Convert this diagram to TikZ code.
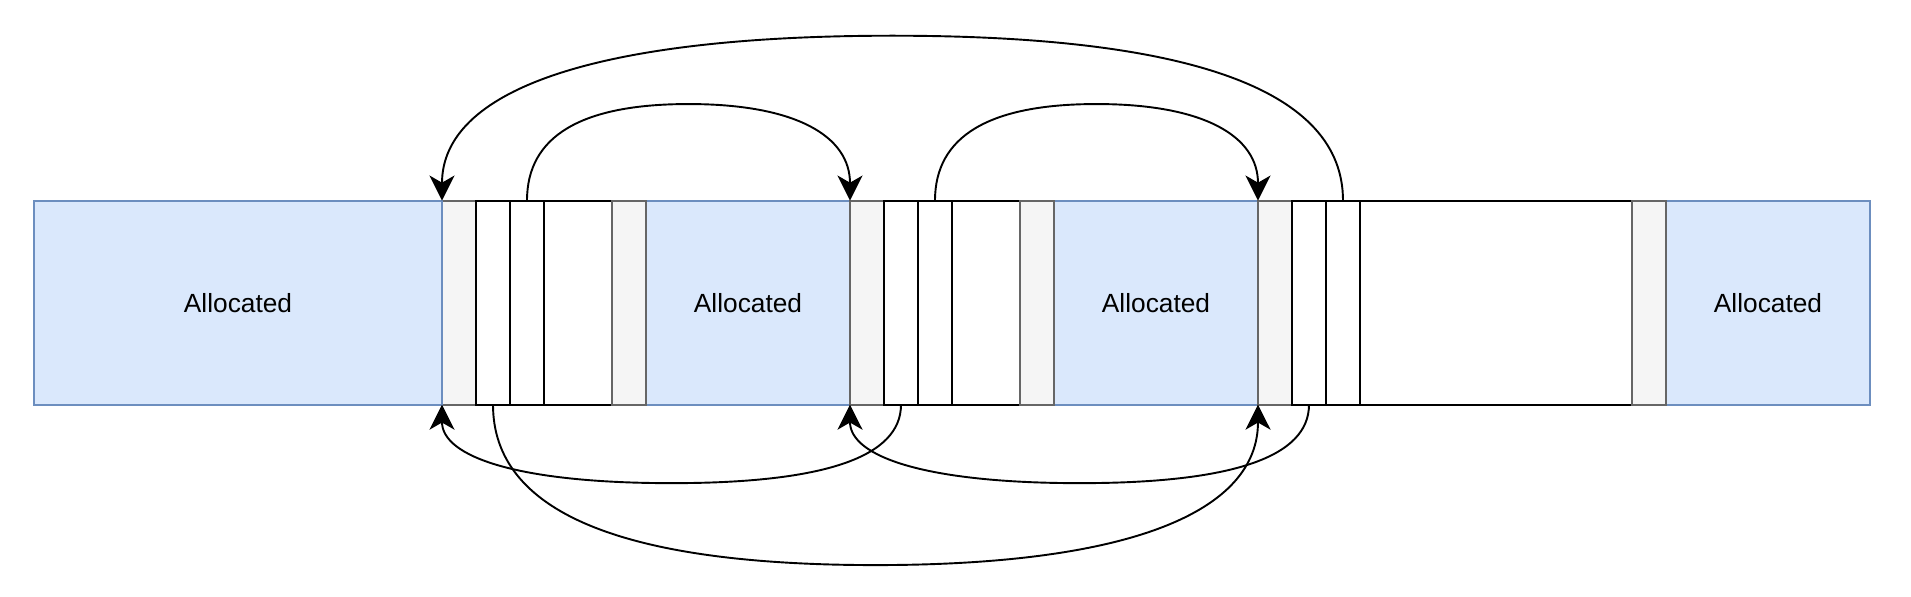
\documentclass[tikz,border=0pt]{standalone}
\usepackage{fontspec}
\setmainfont{Liberation Sans}
\usepackage{tikz}
\usepackage{xcolor}
\usetikzlibrary{arrows.meta}
\definecolor{allocfill}{HTML}{DAE8FC}
\definecolor{allocline}{HTML}{6C8EBF}
\definecolor{hdrfill}{HTML}{F5F5F5}
\definecolor{hdrline}{HTML}{666666}
\tikzset{
  block/.style={rectangle,draw,anchor=south west,inner sep=0pt,outer sep=0pt,
    minimum height=3cm,minimum width=0.5cm,line width=0.8pt},
  alloc/.style={block,fill=allocfill,draw=allocline,font=\fontsize{11}{13}\selectfont},
  hdr/.style={block,fill=hdrfill,draw=hdrline},
  cell/.style={block,fill=white,draw=black},
  ptr/.style={-{Stealth[length=10.5pt,width=10.5pt,inset=3pt]},line width=0.8pt}
}

\begin{document}
\begin{tikzpicture}[x=0.5cm,y=0.5cm]
    \useasboundingbox (0,-5.63) rectangle (56.206,11.9);

    % allocated chunks
    \node[alloc,minimum width=3cm] (a2) at (19,0) {Allocated};
    \node[alloc,minimum width=3cm] (a3) at (31,0) {Allocated};
    \node[alloc,minimum width=3cm] (a4) at (49,0) {Allocated};

    % free chunks: header, two links, body, footer
    \foreach \i/\x/\w in {1/13/1,2/25/1,3/37/4} {
        \node[hdr] (h\i) at (\x,0) {};
        \node[cell] (c\i1) at (\x+1,0) {};
        \node[cell] (c\i2) at (\x+2,0) {};
        \node[cell,minimum width=\w cm] (c\i3) at (\x+3,0) {};
        \node[hdr] (t\i) at (\x+3+2*\w,0) {};
    }
    \node[alloc,minimum width=6cm] (a1) at (1,0) {Allocated};

    % forward links
    \coordinate (nx1) at (20.25,8.84);
    \coordinate (nx2) at (32.25,8.84);
    \coordinate (nx3) at (26.25,10.85);
    \draw[ptr] (c12.north) .. controls +(0,1.89) and +(-3.17,0) .. (nx1)
        .. controls +(3.17,0) and +(0,1.89) .. (h2.north west);
    \draw[ptr] (c22.north) .. controls +(0,1.89) and +(-3.17,0) .. (nx2)
        .. controls +(3.17,0) and +(0,1.89) .. (h3.north west);
    \draw[ptr] (c32.north) .. controls +(0,3.23) and +(8.83,0) .. (nx3)
        .. controls +(-8.83,0) and +(0,3.23) .. (h1.north west);

    % backward links
    \coordinate (pv1) at (25.75,-4.72);
    \coordinate (pv2) at (19.75,-2.31);
    \coordinate (pv3) at (31.75,-2.31);
    \draw[ptr] (c11.south) .. controls +(0,-3.15) and +(-7.5,0) .. (pv1)
        .. controls +(7.5,0) and +(0,-3.15) .. (h3.south west);
    \draw[ptr] (c21.south) .. controls +(0,-1.54) and +(4.5,0) .. (pv2)
        .. controls +(-4.5,0) and +(0,-1.54) .. (h1.south west);
    \draw[ptr] (c31.south) .. controls +(0,-1.54) and +(4.5,0) .. (pv3)
        .. controls +(-4.5,0) and +(0,-1.54) .. (h2.south west);
\end{tikzpicture}
\end{document}
